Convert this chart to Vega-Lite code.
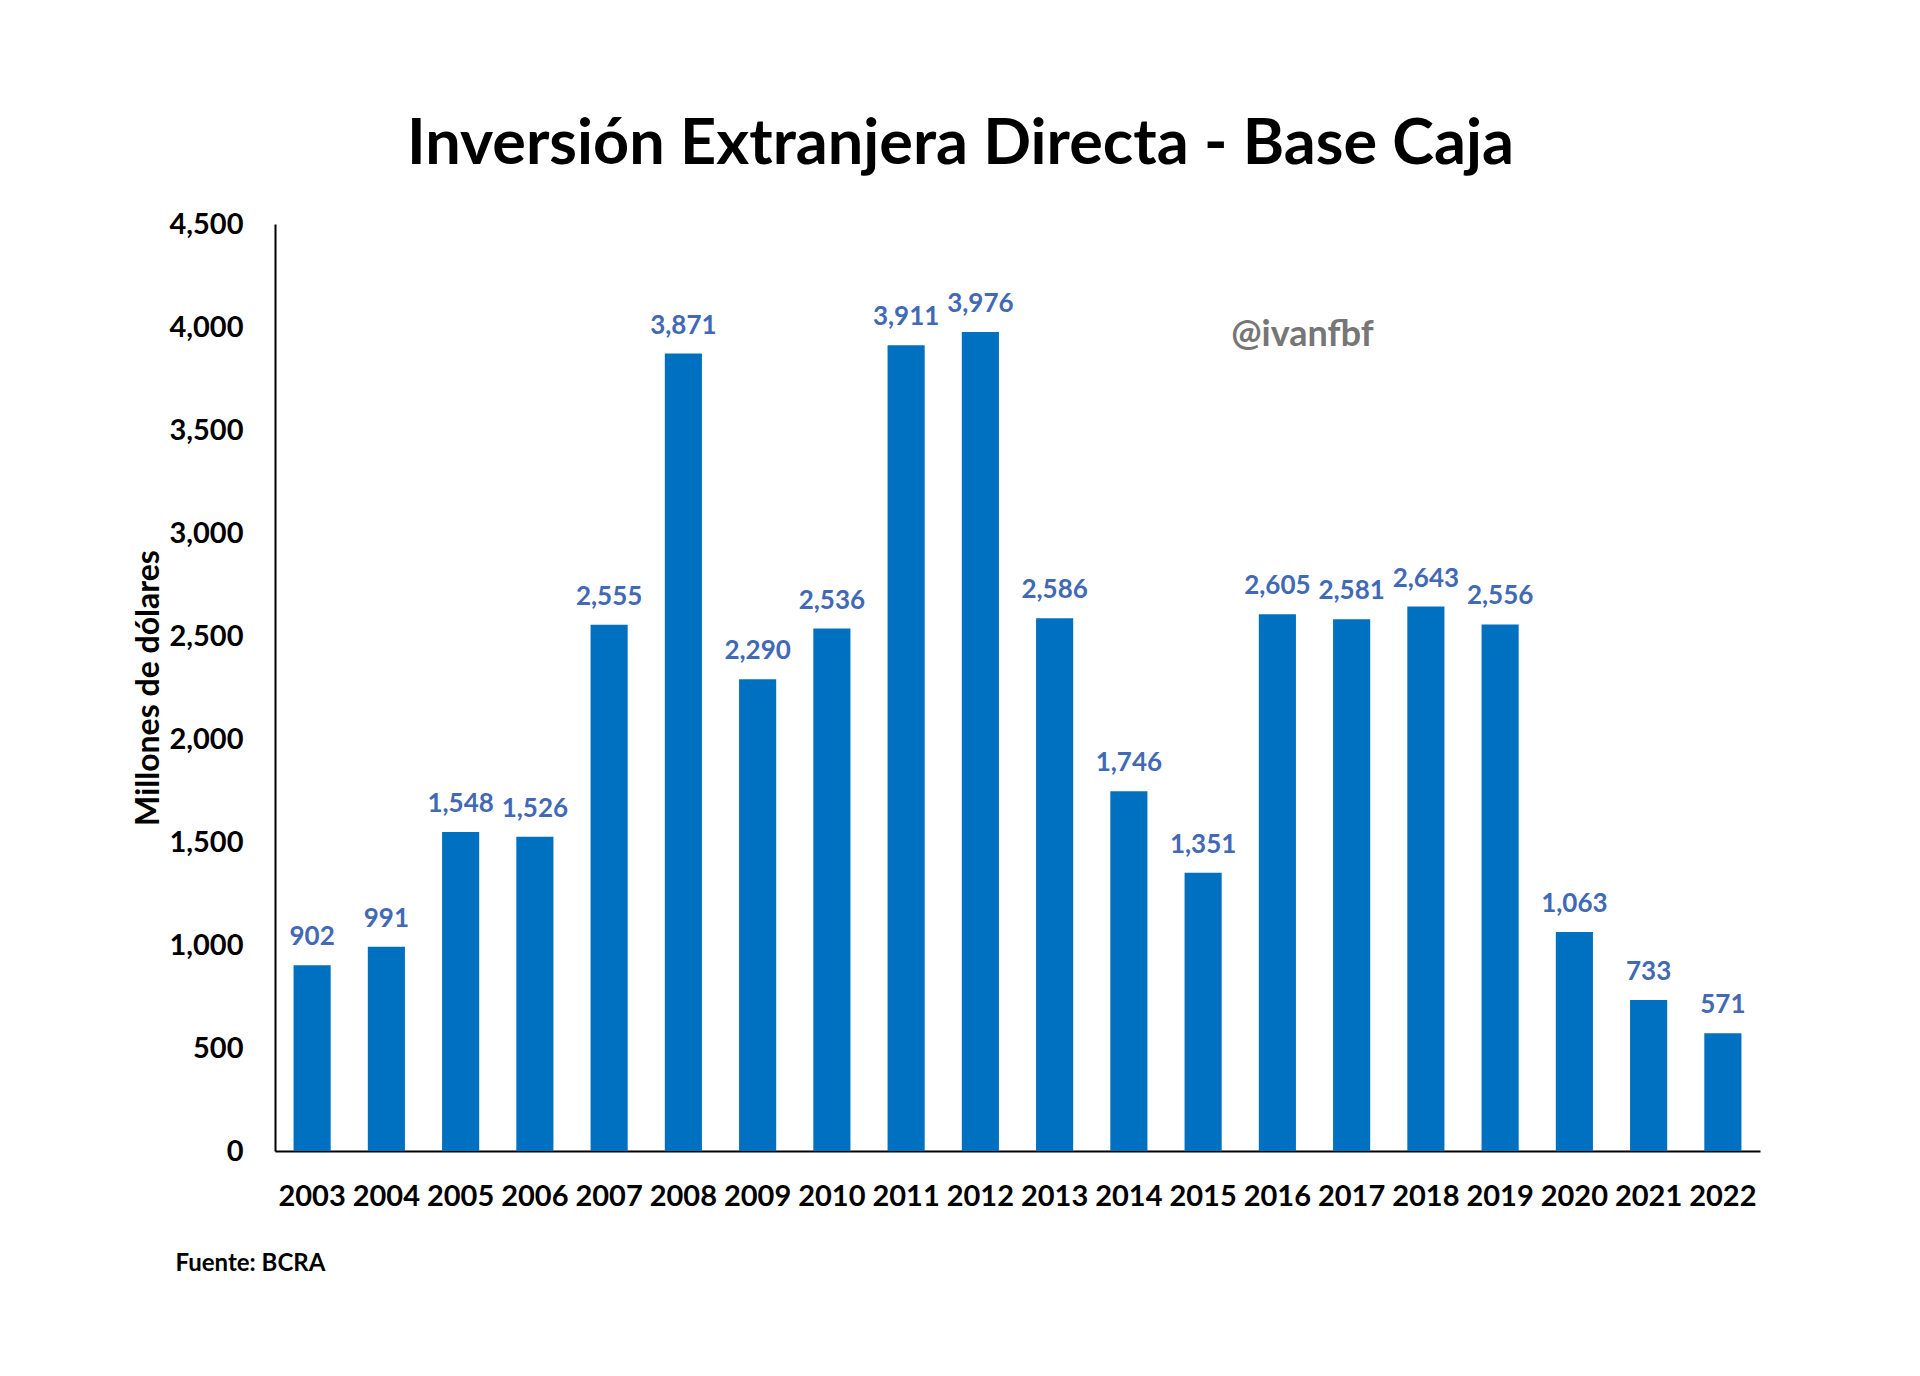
{
  "$schema": "https://vega.github.io/schema/vega-lite/v6.json",
  "autosize": {"type": "none"},
  "width": 1485,
  "height": 927,
  "padding": {"left": 275, "top": 224, "right": 160, "bottom": 225},
  "background": "white",
  "config": {"view": {"stroke": null}, "font": "Lato"},
  "title": {
    "text": "Inversión Extranjera Directa - Base Caja",
    "font": "Lato",
    "fontSize": 63,
    "fontWeight": "bold",
    "color": "black",
    "anchor": "middle",
    "dx": -57,
    "offset": 33
  },
  "data": {
    "values": [
      {"year": "2003", "value": 902},
      {"year": "2004", "value": 991},
      {"year": "2005", "value": 1548},
      {"year": "2006", "value": 1526},
      {"year": "2007", "value": 2555},
      {"year": "2008", "value": 3871},
      {"year": "2009", "value": 2290},
      {"year": "2010", "value": 2536},
      {"year": "2011", "value": 3911},
      {"year": "2012", "value": 3976},
      {"year": "2013", "value": 2586},
      {"year": "2014", "value": 1746},
      {"year": "2015", "value": 1351},
      {"year": "2016", "value": 2605},
      {"year": "2017", "value": 2581},
      {"year": "2018", "value": 2643},
      {"year": "2019", "value": 2556},
      {"year": "2020", "value": 1063},
      {"year": "2021", "value": 733},
      {"year": "2022", "value": 571}
    ]
  },
  "encoding": {
    "x": {
      "field": "year",
      "type": "ordinal",
      "scale": {"paddingInner": 0.5, "paddingOuter": 0.25},
      "axis": {
        "title": "Fuente: BCRA",
        "titleFont": "Lato",
        "titleFontSize": 24,
        "titleFontWeight": "bold",
        "titleColor": "black",
        "titleAnchor": "start",
        "titleAlign": "left",
        "titleX": -100,
        "titleY": 100,
        "labelAngle": 0,
        "labelOverlap": false,
        "labelFont": "Lato",
        "labelFontSize": 29,
        "labelFontWeight": "bold",
        "labelColor": "black",
        "labelPadding": 31,
        "ticks": false,
        "domainColor": "black",
        "domainWidth": 2
      }
    },
    "y": {
      "field": "value",
      "type": "quantitative",
      "scale": {"domain": [0, 4500]},
      "axis": {
        "title": "Millones de dólares",
        "titleFont": "Lato",
        "titleFontSize": 32,
        "titleFontWeight": "bold",
        "titleColor": "black",
        "titlePadding": 3,
        "values": [0, 500, 1000, 1500, 2000, 2500, 3000, 3500, 4000, 4500],
        "format": ",.0f",
        "labelFont": "Lato",
        "labelFontSize": 29,
        "labelFontWeight": "bold",
        "labelColor": "black",
        "labelPadding": 32,
        "ticks": false,
        "grid": false,
        "domainColor": "black",
        "domainWidth": 2
      }
    }
  },
  "layer": [
    {"mark": {"type": "bar", "color": "#0070C0"}},
    {
      "mark": {
        "type": "text",
        "baseline": "alphabetic",
        "dy": -20,
        "font": "Lato",
        "fontSize": 26,
        "fontWeight": "bold",
        "color": "#4169B5"
      },
      "encoding": {"text": {"field": "value", "type": "quantitative", "format": ","}}
    },
    {
      "data": {"values": [{"year": "2016", "label": "@ivanfbf", "value": 3960}]},
      "mark": {
        "type": "text",
        "baseline": "middle",
        "dx": 25,
        "font": "Lato",
        "fontSize": 36,
        "fontWeight": "bold",
        "color": "#767676"
      },
      "encoding": {
        "x": {"field": "year", "type": "ordinal"},
        "y": {"field": "value", "type": "quantitative"},
        "text": {"field": "label"}
      }
    }
  ]
}
